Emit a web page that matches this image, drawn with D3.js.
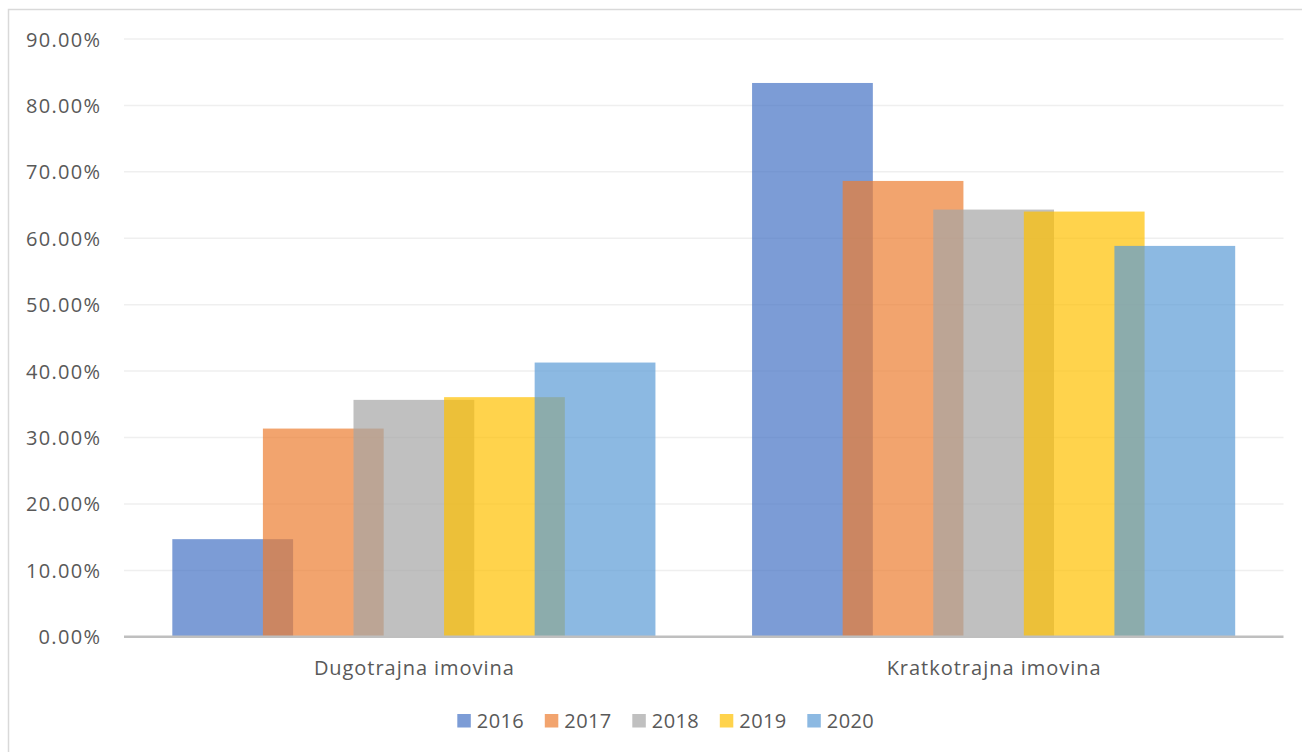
<!DOCTYPE html>
<html>
<head>
<meta charset="utf-8">
<title>Dugotrajna i kratkotrajna imovina</title>
<script src="https://cdn.jsdelivr.net/npm/d3@7"></script>
<style>
  body { margin: 0; background: #fff; }
  text { font-family: "Open Sans", sans-serif; fill: #595959; }
</style>
</head>
<body>
<div id="chart"></div>
<script>
  var categories = ["Dugotrajna imovina", "Kratkotrajna imovina"];
  var years = ["2016", "2017", "2018", "2019", "2020"];
  // percent per year, one array per category
  var dugotrajna = [14.70, 31.35, 35.67, 36.08, 41.29];
  var kratkotrajna = [83.38, 68.63, 64.32, 64.02, 58.85];
  var yTicks = [0, 10, 20, 30, 40, 50, 60, 70, 80, 90];
  var colors = ["#4472C4", "#ED7D31", "#A5A5A5", "#FFC000", "#5B9BD5"];

  var values = [dugotrajna, kratkotrajna];

  var W = 1302, H = 752;
  var plotL = 124, plotR = 1283.5, plotT = 39, plotB = 636.8;

  var svg = d3.select("#chart")
    .append("svg")
    .attr("width", W)
    .attr("height", H);

  // outer chart border (only top and left visible in the shot)
  svg.append("path")
    .attr("d", "M8.5," + H + "V9.5H" + W)
    .attr("fill", "none")
    .attr("stroke", "#D9D9D9")
    .attr("stroke-width", 1.5);

  var x0 = d3.scaleBand()
    .domain(categories)
    .range([plotL, plotR])
    .padding(0);

  // Excel: overlap 25%, gap width 80%
  var barW = x0.bandwidth() / (4 * 0.75 + 1 + 0.8);
  var x1 = d3.scaleLinear()
    .domain([0, years.length - 1])
    .range([0.4 * barW, 0.4 * barW + (years.length - 1) * 0.75 * barW]);

  var y = d3.scaleLinear()
    .domain([0, 90])
    .range([plotB, plotT]);

  // gridlines
  svg.append("g")
    .selectAll("line")
    .data(yTicks.slice(1))
    .enter()
    .append("line")
    .attr("x1", plotL)
    .attr("x2", plotR)
    .attr("y1", function(d) { return y(d); })
    .attr("y2", function(d) { return y(d); })
    .attr("stroke", "#EFEFEF")
    .attr("stroke-width", 1.5);

  // y axis labels
  var yaxis = d3.axisLeft(y)
    .tickValues(yTicks)
    .tickSize(0)
    .tickPadding(0)
    .tickFormat(function(d) { return d3.format(".2f")(d) + "%"; });

  var yg = svg.append("g")
    .attr("transform", "translate(100,0)")
    .call(yaxis);
  yg.select(".domain").remove();
  yg.selectAll("text")
    .attr("font-size", 20)
    .attr("fill", "#595959")
    .attr("font-family", "Open Sans, sans-serif")
    .attr("dy", "0.35em")
    .attr("textLength", function(d) { return d === 0 ? 61.5 : 74; })
    .attr("lengthAdjust", "spacing");

  // bars
  years.forEach(function(yr, i) {
    svg.append("g")
      .selectAll("rect")
      .data(categories)
      .enter()
      .append("rect")
      .attr("x", function(c) { return x0(c) + x1(i); })
      .attr("y", function(c, j) { return y(values[j][i]); })
      .attr("width", barW)
      .attr("height", function(c, j) { return plotB - y(values[j][i]); })
      .attr("fill", colors[i])
      .attr("fill-opacity", 0.7);
  });

  // x axis line
  svg.append("line")
    .attr("x1", plotL)
    .attr("x2", plotR)
    .attr("y1", plotB)
    .attr("y2", plotB)
    .attr("stroke", "#BFBFBF")
    .attr("stroke-width", 2.5);

  // category labels
  var catLen = [200, 214];
  svg.append("g")
    .selectAll("text")
    .data(categories)
    .enter()
    .append("text")
    .attr("x", function(c) { return x0(c) + x0.bandwidth() / 2; })
    .attr("y", 675)
    .attr("text-anchor", "middle")
    .attr("font-size", 20)
    .attr("textLength", function(c, j) { return catLen[j]; })
    .attr("lengthAdjust", "spacing")
    .text(function(c) { return c; });

  // legend
  var lx = d3.scaleLinear()
    .domain([0, years.length - 1])
    .range([457.3, 807.3]);

  var leg = svg.append("g")
    .selectAll("g")
    .data(years)
    .enter()
    .append("g")
    .attr("transform", function(d, i) { return "translate(" + lx(i) + ",714)"; });

  leg.append("rect")
    .attr("width", 13.5)
    .attr("height", 13.5)
    .attr("fill", function(d, i) { return colors[i]; })
    .attr("fill-opacity", 0.7);

  leg.append("text")
    .attr("x", 19.5)
    .attr("y", 7)
    .attr("dy", "0.35em")
    .attr("font-size", 20)
    .attr("textLength", 47)
    .attr("lengthAdjust", "spacing")
    .text(function(d) { return d; });
</script>
</body>
</html>
